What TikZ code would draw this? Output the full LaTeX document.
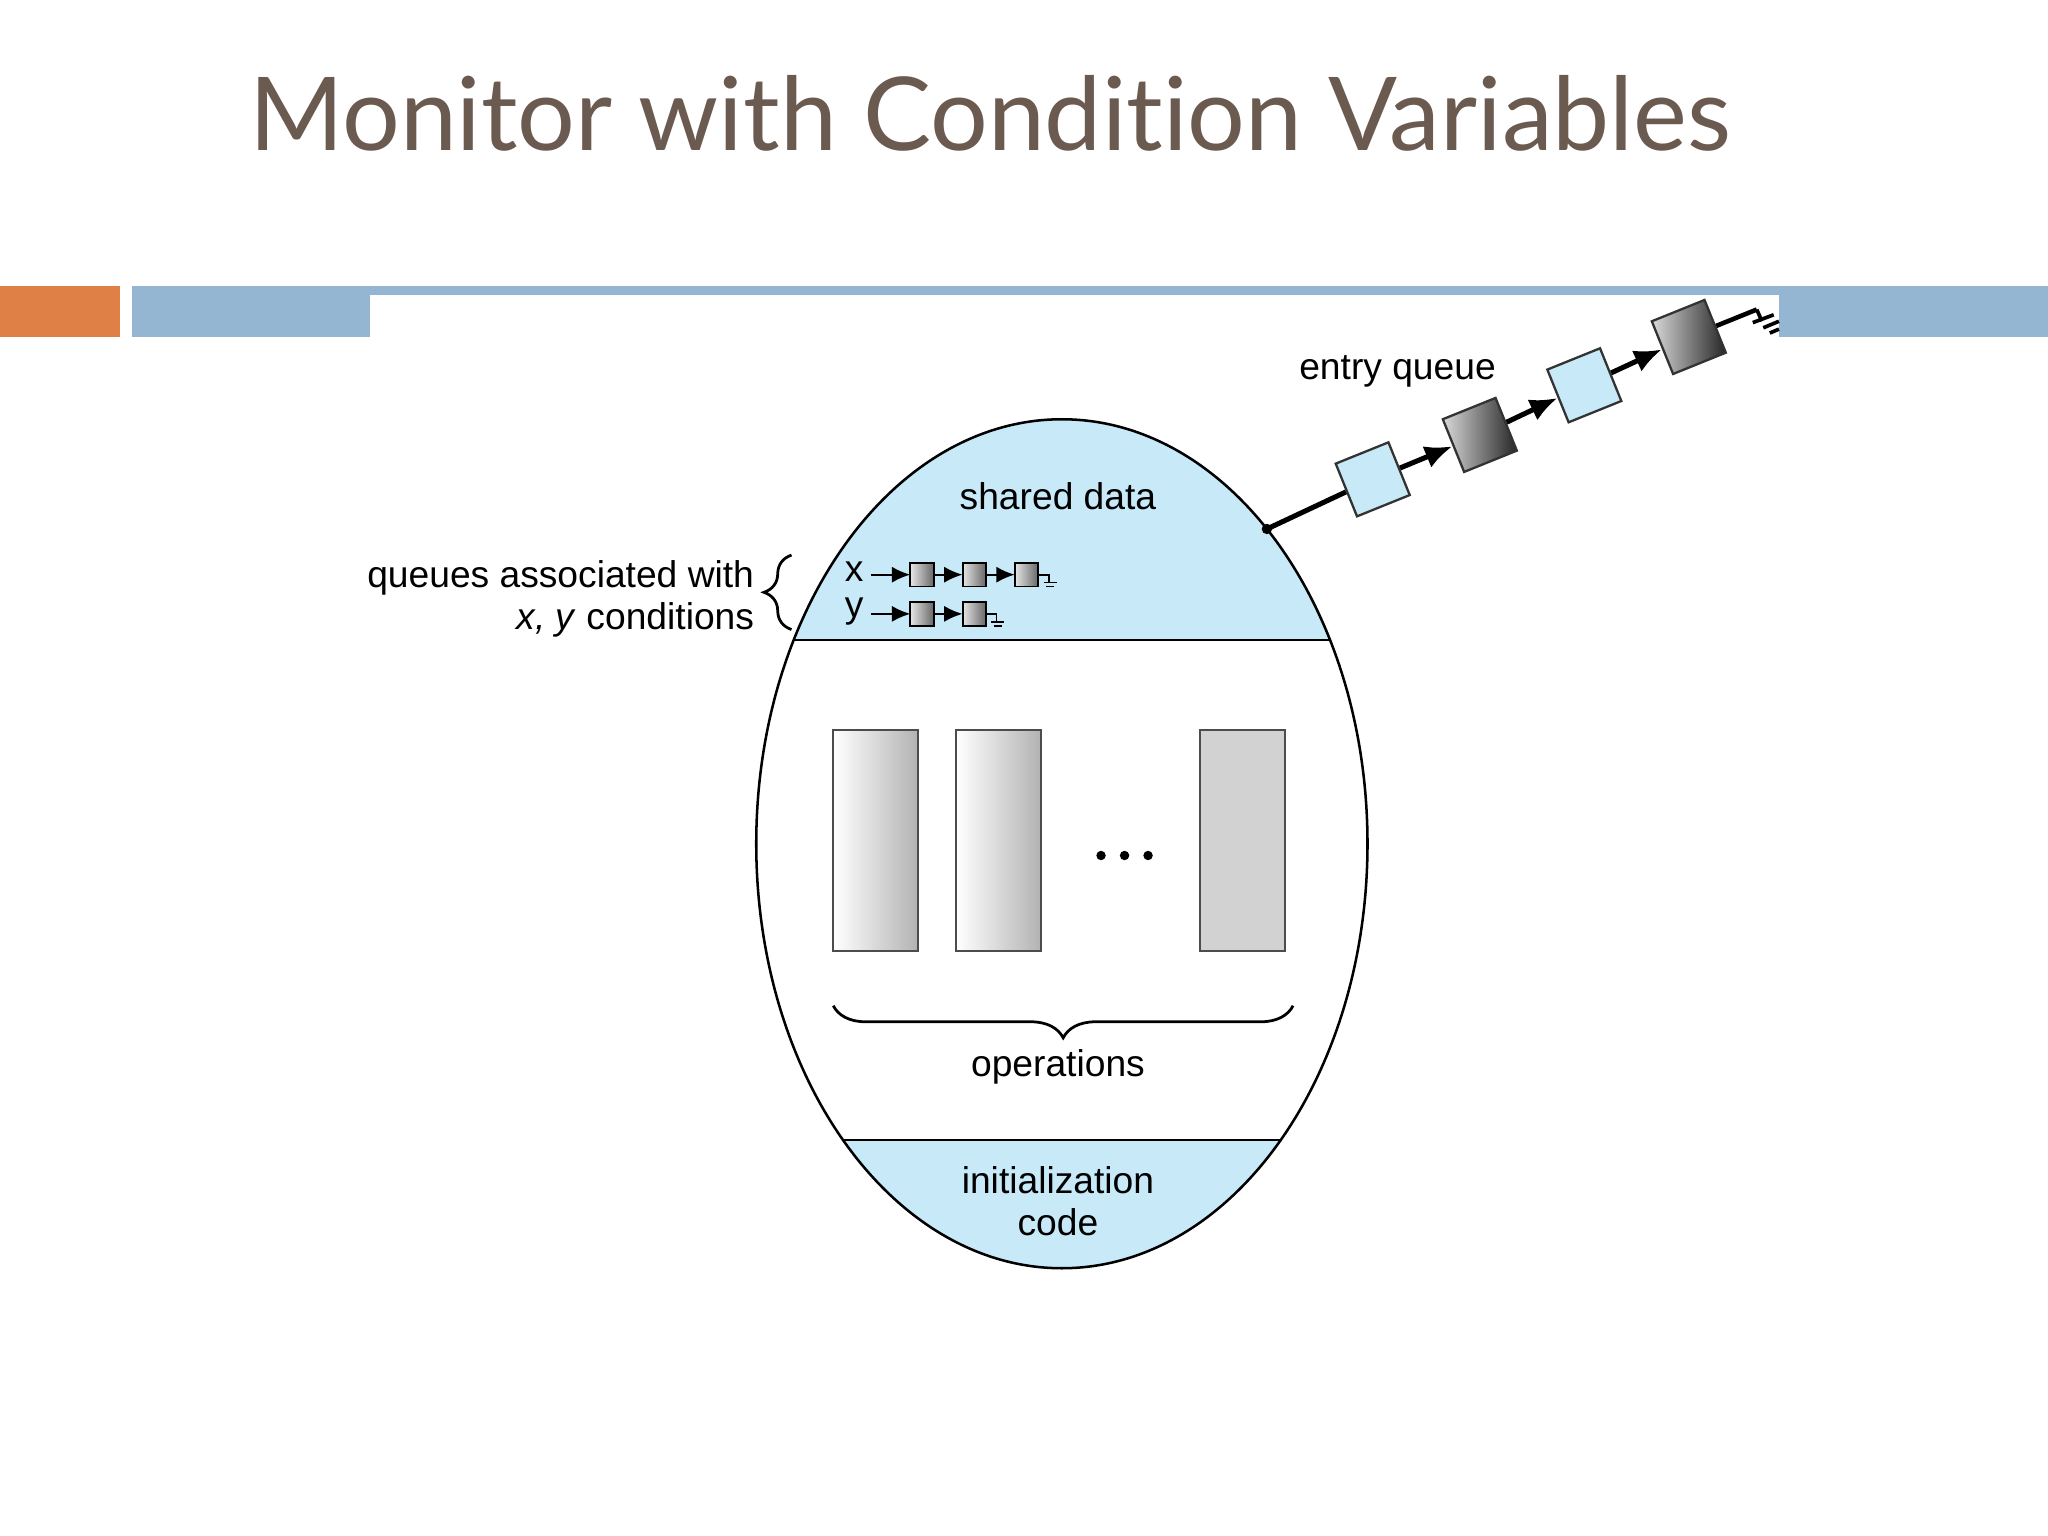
\documentclass[tikz,border=0pt]{standalone}
\usepackage{fontspec}
\setmainfont{Liberation Sans}
\newfontfamily\titlefont[Ligatures=NoCommon]{Lato}
\usetikzlibrary{decorations.pathreplacing,arrows.meta}
\definecolor{lblue}{HTML}{C8E9F8}
\definecolor{barblue}{HTML}{94B6D2}
\definecolor{barorange}{HTML}{DF8146}
\definecolor{titlec}{HTML}{6B5A50}
\tikzset{
  lbl/.style={font=\fontsize{8.1}{9.5}\selectfont, inner sep=0pt},
  opbox/.style={draw=black!70, line width=0.5pt},
  qbox/.style={draw=black, line width=0.4pt, left color=gray!20, right color=gray!80!black},
  qarr/.style={-{Latex[length=4pt,width=3.5pt]}, line width=0.5pt},
  ebox/.style={draw=black!80, line width=0.5pt, minimum size=1.45cm*0.3, inner sep=0pt},
  earr/.style={-{Latex[length=6pt,width=5pt]}, line width=1.1pt}
}
\begin{document}
\begin{tikzpicture}[x=0.01cm,y=-0.01cm]
\useasboundingbox (0,0) rectangle (1568,1176);
\fill[white] (0,0) rectangle (1568,1176);
% title
\node[anchor=base west, text=titlec, inner sep=0pt, font=\titlefont\fontsize{22.2}{27}\selectfont] (title) at (190,115) {Monitor with Condition Variables};
% bars
\fill[barorange] (0,219) rectangle (92,258);
\fill[barblue] (101,219) rectangle (283,258);
\fill[barblue] (283,219) rectangle (1568,226);
\fill[barblue] (1362,219) rectangle (1568,258);
% monitor ellipse
\begin{scope}
\clip (813,646) ellipse [x radius=234, y radius=325];
\fill[lblue] (500,300) rectangle (1100,490);
\fill[lblue] (500,873) rectangle (1100,1000);
\draw[line width=0.5pt] (500,490) -- (1100,490);
\draw[line width=0.5pt] (500,873) -- (1100,873);
\end{scope}
\draw[line width=0.55pt] (813,646) ellipse [x radius=234, y radius=325];
\node[lbl] (sd) at (810,380) {shared data};
\node[lbl, anchor=base] (init1) at (810,914) {initialization};
\node[lbl, anchor=base] (init2) at (810,946) {code};
% operations
\shade[left color=white, right color=gray!60] (638,559) rectangle (703,728);
\draw[opbox] (638,559) rectangle (703,728);
\shade[left color=white, right color=gray!60] (732,559) rectangle (797,728);
\draw[opbox] (732,559) rectangle (797,728);
\fill[gray!35] (919,559) rectangle (984,728);
\draw[opbox] (919,559) rectangle (984,728);
\foreach \xx in {843,861,879} \fill (\xx,655) circle (3.6);
\draw[line width=0.6pt, decorate, decoration={brace, amplitude=7pt, mirror}] (638,770) -- (990,770);
\node[lbl] (ops) at (810,817) {operations};
% condition queues label
\node[lbl, anchor=base east] (ql1) at (578,450) {queues associated with};
\node[lbl, anchor=base east] (ql2) at (578,482) {\textit{x, y} conditions};
\draw[line width=0.6pt, decorate, decoration={brace, amplitude=6pt}] (606,482) -- (606,425);
% x queue
\node[lbl] (xl) at (654,438) {x};
\node[lbl] (yl) at (654,468) {y};
\foreach \n/\xx in {1/697,2/737,3/777} {\shade[qbox] (\xx,431) rectangle ++(18,18); \draw[line width=0.4pt] (\xx,431) rectangle ++(18,18); \coordinate (xb\n) at (\xx,440);}
\foreach \n/\xx in {1/697,2/737} {\shade[qbox] (\xx,461) rectangle ++(18,18); \draw[line width=0.4pt] (\xx,461) rectangle ++(18,18); \coordinate (yb\n) at (\xx,470);}
\draw[qarr] (667,440) -- (xb1);
\draw[qarr] (715,440) -- (xb2);
\draw[qarr] (755,440) -- (xb3);
\draw[qarr] (667,470) -- (yb1);
\draw[qarr] (715,470) -- (yb2);
\draw[line width=0.4pt] (795,440) -- (803,440) -- (803,446) (799,446) -- (809,446) (801,449) -- (807,449);
\draw[line width=0.4pt] (755,470) -- (763,470) -- (763,476) (759,476) -- (769,476) (761,479) -- (767,479);
% entry queue
\node[lbl] (eq) at (1070,284) {entry queue};
\coordinate (ep) at (970,405);
\fill (ep) circle (4);
\node[ebox, fill=lblue, rotate=22] (e1) at (1051,367) {};
\node[ebox, rotate=22, left color=gray!30, right color=black!85] (e2) at (1133,333) {};
\node[ebox, fill=lblue, rotate=22] (e3) at (1213,295) {};
\node[ebox, rotate=22, left color=gray!30, right color=black!85] (e4) at (1293,258) {};
\draw[line width=1.1pt] (ep) -- (e1);
\draw[earr] (e1) -- (e2);
\draw[earr] (e2) -- (e3);
\draw[earr] (e3) -- (e4);
\draw[line width=1pt] (e4) -- (1345,237);
\draw[line width=0.8pt] (1345,237) -- (1349,246) (1342,247) -- (1358,241) (1350,251) -- (1362,246) (1355,255) -- (1362,252);
\end{tikzpicture}
\end{document}
